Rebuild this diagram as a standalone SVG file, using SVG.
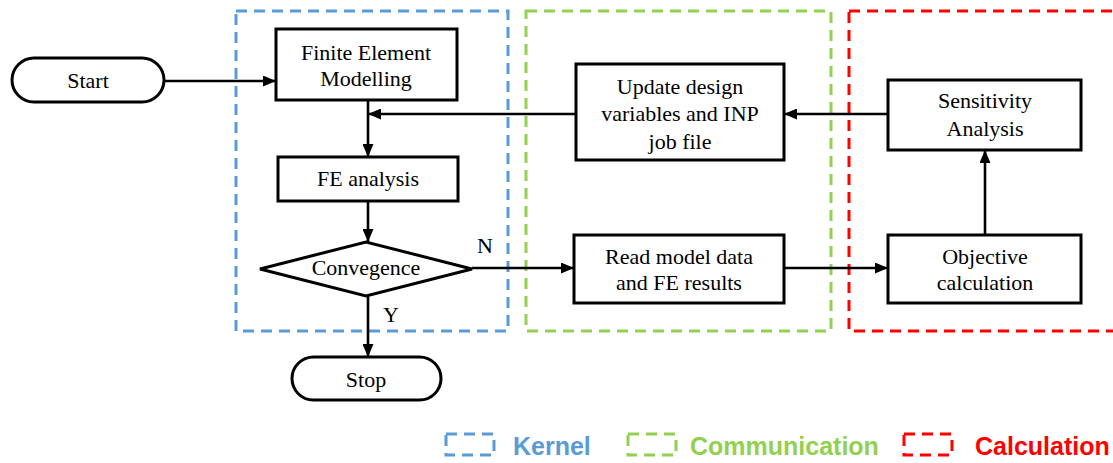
<svg xmlns="http://www.w3.org/2000/svg" width="1113" height="463" viewBox="0 0 1113 463">
<style>
.node{fill:#fff;stroke:#000;stroke-width:3}
.t{font-family:"Liberation Serif","Times New Roman",serif;font-size:22px;fill:#000;text-anchor:middle}
.lbl{font-family:"Liberation Serif","Times New Roman",serif;font-size:22px;fill:#000}
.con{fill:none;stroke:#000;stroke-width:2.6}
.grp{fill:none;stroke-width:3;stroke-dasharray:11 7}
.leg{font-family:"Liberation Sans",Arial,sans-serif;font-size:25px;font-weight:bold}
</style>
<defs>
<marker id="ah" viewBox="0 0 13 11" refX="13" refY="5.5" markerWidth="13" markerHeight="11" markerUnits="userSpaceOnUse" orient="auto">
<path d="M0,0 L13,5.5 L0,11 Z" fill="#000"/>
</marker>
</defs>
<g id="groups">
<rect class="grp" x="236" y="11" width="272" height="320" stroke="#5B9BD5"/>
<rect class="grp" x="526" y="11" width="305" height="320" stroke="#92D050"/>
<rect class="grp" x="849" y="11" width="280" height="320" stroke="#FF0000"/>
</g>
<g id="connectors">
<line class="con" x1="164" y1="81" x2="276" y2="81" marker-end="url(#ah)"/>
<line class="con" x1="368" y1="100" x2="368" y2="157" marker-end="url(#ah)"/>
<line class="con" x1="576" y1="114" x2="368" y2="114" marker-end="url(#ah)"/>
<line class="con" x1="368" y1="201" x2="368" y2="242" marker-end="url(#ah)"/>
<line class="con" x1="472" y1="268" x2="574" y2="268" marker-end="url(#ah)"/>
<line class="con" x1="784" y1="268" x2="888" y2="268" marker-end="url(#ah)"/>
<line class="con" x1="985" y1="235" x2="985" y2="150" marker-end="url(#ah)"/>
<line class="con" x1="888" y1="114" x2="784" y2="114" marker-end="url(#ah)"/>
<line class="con" x1="368" y1="296" x2="368" y2="357" marker-end="url(#ah)"/>
<text class="lbl" x="477" y="253">N</text>
<text class="lbl" x="383" y="322">Y</text>
</g>
<g id="start">
<rect class="node" x="12" y="58" width="152" height="44" rx="22"/>
<text class="t" x="88" y="88">Start</text>
</g>
<g id="fem">
<rect class="node" x="276" y="29" width="181" height="71"/>
<text class="t" x="366" y="60">Finite Element</text>
<text class="t" x="366" y="86">Modelling</text>
</g>
<g id="fea">
<rect class="node" x="278" y="157" width="180" height="44"/>
<text class="t" x="368" y="186">FE analysis</text>
</g>
<g id="conv">
<polygon class="node" points="260,269 366,242 472,269 366,296"/>
<text class="t" x="366" y="275">Convegence</text>
</g>
<g id="stop">
<rect class="node" x="292" y="357" width="149" height="43" rx="21.5"/>
<text class="t" x="366" y="387">Stop</text>
</g>
<g id="update">
<rect class="node" x="576" y="64" width="208" height="96"/>
<text class="t" x="680" y="94">Update design</text>
<text class="t" x="680" y="121">variables and INP</text>
<text class="t" x="680" y="149">job file</text>
</g>
<g id="read">
<rect class="node" x="574" y="235" width="210" height="68"/>
<text class="t" x="679" y="264">Read model data</text>
<text class="t" x="679" y="290">and FE results</text>
</g>
<g id="sens">
<rect class="node" x="888" y="80" width="193" height="70"/>
<text class="t" x="985" y="108">Sensitivity</text>
<text class="t" x="985" y="136">Analysis</text>
</g>
<g id="obj">
<rect class="node" x="888" y="235" width="193" height="68"/>
<text class="t" x="985" y="264">Objective</text>
<text class="t" x="985" y="290">calculation</text>
</g>
<g id="legend">
<rect class="grp" x="446" y="434" width="48" height="21" stroke="#5B9BD5" stroke-dasharray="10 8"/>
<text class="leg" x="513" y="455" fill="#5B9BD5">Kernel</text>
<rect class="grp" x="628" y="434" width="48" height="21" stroke="#92D050" stroke-dasharray="10 8"/>
<text class="leg" x="690" y="455" fill="#92D050">Communication</text>
<rect class="grp" x="904" y="434" width="48" height="21" stroke="#FF0000" stroke-dasharray="10 8"/>
<text class="leg" x="975" y="455" fill="#FF0000">Calculation</text>
</g>
</svg>
